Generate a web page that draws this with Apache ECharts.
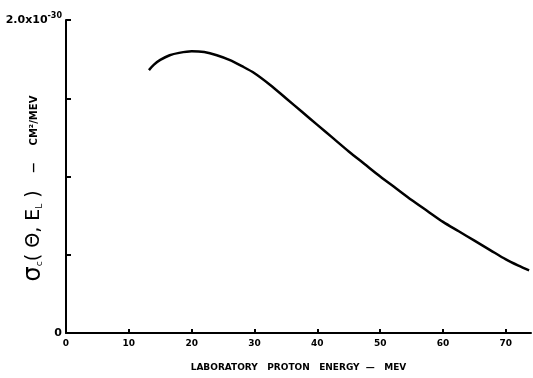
<!DOCTYPE html>
<html>
<head>
<meta charset="utf-8">
<script src="https://cdn.jsdelivr.net/npm/echarts@6/dist/echarts.min.js"></script>
<style>html,body{margin:0;padding:0;background:#fff}#c{width:533px;height:378px}</style>
</head>
<body>
<div id="c"></div>
<script>
// Laboratory proton energy (MeV)
var energies = [13.2, 14, 15, 16.5, 18, 20, 22, 24, 26, 28, 30, 32.5, 35, 37.5, 40, 42.5, 45, 47.5, 50, 52.5, 55, 57.5, 60, 62.5, 65, 67.5, 70, 72, 73.7];
// Cross section in units of 1e-30 cm^2/MeV
var sigma = [1.68, 1.715, 1.745, 1.775, 1.79, 1.80, 1.795, 1.775, 1.745, 1.705, 1.66, 1.585, 1.50, 1.415, 1.33, 1.245, 1.16, 1.08, 1.00, 0.925, 0.85, 0.78, 0.71, 0.65, 0.59, 0.53, 0.47, 0.43, 0.40];
var xTicks = [0, 10, 20, 30, 40, 50, 60, 70];
var yLabeledTicks = [0, 2.0];

var data = energies.map(function (e, i) { return [e, sigma[i]]; });
var chart = echarts.init(document.getElementById('c'));
var ff = '"DejaVu Sans", Arial, sans-serif';
chart.setOption({
  animation: false,
  backgroundColor: '#fff',
  grid: { left: 66, right: 2, top: 20, bottom: 45, outerBoundsMode: 'none', containLabel: false },
  xAxis: {
    type: 'value', min: 0, max: 74, interval: 10,
    axisLine: { lineStyle: { color: '#000', width: 2 } },
    axisTick: { inside: true, length: 4, lineStyle: { color: '#000', width: 2 } },
    splitLine: { show: false },
    axisLabel: {
      color: '#000', fontFamily: ff, fontWeight: 'bold', fontSize: 9, margin: 6,
      showMaxLabel: false,
      formatter: function (v) { return xTicks.indexOf(v) >= 0 ? String(v) : ''; }
    },
    name: 'LABORATORY   PROTON   ENERGY  —   MEV',
    nameLocation: 'middle', nameGap: 30, nameMoveOverlap: false,
    nameTextStyle: { color: '#000', fontFamily: ff, fontWeight: 'bold', fontSize: 9 }
  },
  yAxis: {
    type: 'value', min: 0, max: 2.0, interval: 0.5,
    axisLine: { lineStyle: { color: '#000', width: 2 } },
    axisTick: { inside: true, length: 5, lineStyle: { color: '#000', width: 2 } },
    splitLine: { show: false },
    axisLabel: {
      color: '#000', fontFamily: ff, fontWeight: 'bold', fontSize: 11, margin: 4,
      formatter: function (v) {
        if (v === yLabeledTicks[0]) return '0';
        if (v === yLabeledTicks[1]) return '{m|2.0x10}{sup|-30}';
        return '';
      },
      rich: {
        m: { fontFamily: ff, fontWeight: 'bold', fontSize: 11, color: '#000' },
        sup: { fontFamily: ff, fontWeight: 'bold', fontSize: 8, color: '#000', padding: [0, 0, 8, 0] }
      }
    },
    name: '{s|σ}{sub|c}{n|( Θ, E}{sub|L}{n| )}{u|     —     CM²/MEV}',
    nameLocation: 'middle', nameGap: 20, nameRotate: 90, nameMoveOverlap: false,
    nameTextStyle: {
      color: '#000',
      padding: [0, 24, 0, 0],
      rich: {
        s: { fontFamily: ff, fontSize: 24, color: '#000' },
        sub: { fontFamily: ff, fontSize: 9, color: '#000', padding: [12, 0, 0, 0] },
        n: { fontFamily: ff, fontSize: 19, color: '#000' },
        u: { fontFamily: ff, fontSize: 10, fontWeight: 'bold', color: '#000' }
      }
    }
  },
  series: [{
    type: 'line', data: data, smooth: 0.3, showSymbol: false,
    lineStyle: { color: '#000', width: 2.5 }
  }]
});
</script>
</body>
</html>
